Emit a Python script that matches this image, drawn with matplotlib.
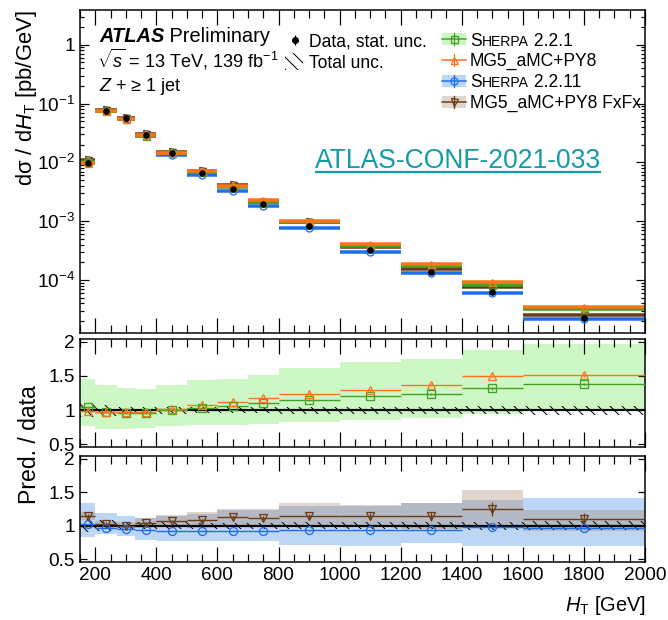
import numpy as np
import matplotlib
matplotlib.use("Agg")
import matplotlib.pyplot as plt
from matplotlib.patches import Rectangle
from matplotlib.ticker import LogLocator, MultipleLocator, FixedLocator, FuncFormatter, NullFormatter

plt.rcParams["font.family"] = ["Liberation Sans", "DejaVu Sans"]
plt.rcParams["mathtext.fontset"] = "custom"
plt.rcParams["mathtext.rm"] = "Liberation Sans"
plt.rcParams["mathtext.it"] = "Liberation Sans:italic"
plt.rcParams["mathtext.bf"] = "Liberation Sans:bold"
plt.rcParams["mathtext.default"] = "regular"
plt.rcParams["hatch.linewidth"] = 1.0

# ── binning and measured cross section ─────────────────────────────────────────
edges = np.array([150, 200, 270, 330, 400, 500, 600, 700, 800, 1000, 1200, 1400, 1600, 2000])
data_xsec = np.array([9.7e-3, 7.6e-2, 5.65e-2, 2.97e-2, 1.43e-2, 6.7e-3, 3.6e-3,
                      1.94e-3, 8.3e-4, 3.2e-4, 1.38e-4, 6.2e-5, 2.3e-5])
data_stat = np.array([0.01, 0.005, 0.005, 0.005, 0.005, 0.005, 0.01,
                      0.01, 0.01, 0.015, 0.02, 0.03, 0.04])          # relative
tot_unc = np.array([0.10, 0.08, 0.05, 0.05, 0.05, 0.045, 0.045,
                    0.045, 0.05, 0.05, 0.05, 0.06, 0.065])          # relative

# ── predictions / data ─────────────────────────────────────────────────────────
r_sh221 = np.array([1.04, 0.97, 0.96, 0.96, 1.00, 1.03, 1.06, 1.10, 1.15, 1.20, 1.24, 1.32, 1.38])
r_sh221_stat = np.array([0.02, 0.01, 0.01, 0.01, 0.01, 0.01, 0.01, 0.01, 0.01, 0.01, 0.015, 0.02, 0.02])
r_sh221_lo = np.array([0.77, 0.72, 0.73, 0.74, 0.76, 0.78, 0.785, 0.80, 0.83, 0.86, 0.89, 0.95, 0.98])
r_sh221_hi = np.array([1.45, 1.36, 1.33, 1.31, 1.37, 1.44, 1.45, 1.51, 1.61, 1.70, 1.75, 1.88, 1.96])

r_mg5 = np.array([0.99, 0.975, 0.97, 0.97, 1.02, 1.07, 1.12, 1.17, 1.24, 1.29, 1.37, 1.50, 1.51])
r_mg5_stat = np.array([0.02, 0.01, 0.01, 0.01, 0.01, 0.01, 0.01, 0.01, 0.01, 0.01, 0.015, 0.02, 0.02])

r_sh2211 = np.array([1.02, 0.97, 0.95, 0.94, 0.925, 0.925, 0.925, 0.925, 0.93, 0.93, 0.94, 0.975, 0.965])
r_sh2211_stat = np.array([0.01, 0.01, 0.01, 0.01, 0.01, 0.01, 0.01, 0.01, 0.01, 0.01, 0.01, 0.015, 0.015])
r_sh2211_lo = np.array([0.84, 0.88, 0.85, 0.79, 0.78, 0.77, 0.77, 0.77, 0.72, 0.70, 0.74, 0.70, 0.70])
r_sh2211_hi = np.array([1.34, 1.19, 1.14, 1.12, 1.14, 1.17, 1.23, 1.23, 1.29, 1.30, 1.34, 1.38, 1.41])

r_fxfx = np.array([1.15, 1.03, 1.00, 1.04, 1.07, 1.08, 1.13, 1.11, 1.15, 1.15, 1.14, 1.25, 1.10])
r_fxfx_stat = np.array([0.03, 0.02, 0.02, 0.02, 0.02, 0.02, 0.03, 0.03, 0.03, 0.04, 0.07, 0.11, 0.09])
r_fxfx_lo = np.array([1.09, 0.98, 0.96, 0.97, 0.99, 0.97, 1.00, 0.98, 0.98, 0.98, 0.95, 0.96, 0.92])
r_fxfx_hi = np.array([1.21, 1.07, 1.05, 1.11, 1.16, 1.20, 1.25, 1.25, 1.34, 1.31, 1.34, 1.54, 1.24])

c_green, c_orange, c_blue, c_brown = "#44a020", "#ff731a", "#1e6eeb", "#6e3c14"
f_green, f_blue, f_brown = "#cdf8c6", "#bed6f5", "#9a7a5a"

centers = 0.5 * (edges[:-1] + edges[1:])
lo_e, hi_e = edges[:-1], edges[1:]

# ── canvas in pixel units (dpi 72 so 1 pt == 1 px) ─────────────────────────────
W, H = 668, 620
fig = plt.figure(figsize=(W / 72, H / 72), dpi=72)


def px_axes(left, top, right, bottom):
    return fig.add_axes([left / W, 1 - bottom / H, (right - left) / W, (bottom - top) / H])


ax_top = px_axes(80, 10, 645, 333)
ax_mid = px_axes(80, 339, 645, 447)
ax_bot = px_axes(80, 456, 645, 562)


def style(ax, ylen=7):
    ax.set_xlim(150, 2000)
    ax.xaxis.set_major_locator(MultipleLocator(200))
    ax.xaxis.set_minor_locator(MultipleLocator(50))
    ax.tick_params(which="both", direction="in", top=True, right=True,
                   labelsize=19, width=1.2, pad=5)
    ax.tick_params(axis="x", which="major", length=15)
    ax.tick_params(axis="x", which="minor", length=8)
    ax.tick_params(axis="y", which="major", length=ylen)
    ax.tick_params(axis="y", which="minor", length=4)
    for s in ax.spines.values():
        s.set_linewidth(1.5)


# --- top panel: differential cross section ---
ax_top.set_yscale("log")
ax_top.set_ylim(1.26e-5, 3.9)
style(ax_top, ylen=9)
ax_top.yaxis.set_major_locator(LogLocator(base=10, numticks=20))
ax_top.yaxis.set_minor_locator(LogLocator(base=10, subs=np.arange(2, 10), numticks=20))
ax_top.yaxis.set_minor_formatter(NullFormatter())
ax_top.yaxis.set_major_formatter(FuncFormatter(
    lambda v, _: "1" if abs(v - 1) < 1e-9 else r"$10^{%d}$" % round(np.log10(v))))
ax_top.tick_params(labelbottom=False)

for ratio, col, mk in [(r_sh2211, c_blue, "o"), (r_fxfx, c_brown, "v"),
                       (r_sh221, c_green, "s"), (r_mg5, c_orange, "^")]:
    pred = data_xsec * ratio
    ax_top.hlines(pred, lo_e, hi_e, color=col, lw=3.5)
    ax_top.plot(centers, pred, ls="none", marker=mk, mfc="none", mec=col, ms=7, mew=1.3)
ax_top.errorbar(centers, data_xsec, yerr=data_xsec * data_stat, fmt="o", color="k",
                ms=5.5, elinewidth=1.2, capsize=0, zorder=5)


# --- ratio panels ---
def ratio_panel(ax, models):
    style(ax)
    ax.set_ylim(0.46, 2.04)
    ax.yaxis.set_major_locator(FixedLocator([0.5, 1, 1.5, 2]))
    ax.yaxis.set_major_formatter(FuncFormatter(lambda v, _: "%g" % v))
    ax.stairs(1 + tot_unc, edges, baseline=1 - tot_unc, fill=True, facecolor="none",
              edgecolor="k", hatch="\\\\", lw=0, zorder=3)
    ax.hlines(np.ones(len(centers)), lo_e, hi_e, color="k", lw=2.2, zorder=3)
    for ratio, stat, col, mk in models:
        ax.hlines(ratio, lo_e, hi_e, color=col, lw=1.4, zorder=4)
        ax.errorbar(centers, ratio, yerr=stat, fmt=mk, mfc="none", mec=col, ecolor=col,
                    ms=8, mew=1.3, elinewidth=1.3, capsize=0, zorder=5)


ax_mid.stairs(r_sh221_hi, edges, baseline=r_sh221_lo, fill=True, facecolor=f_green, lw=0, zorder=1)
ratio_panel(ax_mid, [(r_sh221, r_sh221_stat, c_green, "s"), (r_mg5, r_mg5_stat, c_orange, "^")])
ax_mid.tick_params(labelbottom=False)

ax_bot.stairs(r_sh2211_hi, edges, baseline=r_sh2211_lo, fill=True, facecolor=f_blue, lw=0, zorder=1)
ax_bot.stairs(r_fxfx_hi, edges, baseline=r_fxfx_lo, fill=True, facecolor=f_brown, alpha=0.3,
              lw=0, zorder=2)
ratio_panel(ax_bot, [(r_sh2211, r_sh2211_stat, c_blue, "o"), (r_fxfx, r_fxfx_stat, c_brown, "v")])

# ── labels, legend and annotations on a pixel overlay ─────────────────────────
ov = fig.add_axes([0, 0, 1, 1])
ov.set_xlim(0, W)
ov.set_ylim(H, 0)
ov.axis("off")
renderer = fig.canvas.get_renderer()


def put_pieces(x, y, pieces, **kw):
    for s, size, extra in pieces:
        t = ov.text(x, y, s, fontsize=size, va="baseline", ha="left", **extra, **kw)
        x += t.get_window_extent(renderer=renderer).width


ov.text(27, 10, r"dσ / d$\mathit{H}_{\mathrm{T}}$ [pb/GeV]", rotation=90, ha="center",
        va="top", fontsize=22)
ov.text(30, 445, "Pred. / data", rotation=90, ha="center", va="center", fontsize=23)
ov.text(646, 611, r"$\mathit{H}_{\mathrm{T}}$ [GeV]", ha="right", va="baseline", fontsize=20)

put_pieces(99, 42, [("ATLAS", 20, dict(fontweight="bold", fontstyle="italic")),
                    (" Preliminary", 20, {})])
ov.text(97, 67, r"$\sqrt{\mathit{s}}$ = 13 TeV, 139 fb$^{-1}$", fontsize=18, va="baseline")
ov.text(99, 91, r"$\mathit{Z}$ + ≥ 1 jet", fontsize=18, va="baseline")

# left legend column
ov.errorbar([295], [40], yerr=[[5], [5]], fmt="o", color="k", ms=6, elinewidth=1.2, capsize=0)
ov.text(309, 46.3, "Data, stat. unc.", fontsize=17.5, va="baseline")
ov.add_patch(Rectangle((285, 53), 18, 17, facecolor="none", edgecolor="k", hatch="\\\\", lw=0))
ov.text(309, 67.5, "Total unc.", fontsize=17.5, va="baseline")

# right legend column
entries = [
    (c_green, f_green, 1.0, "s", [("S", 17.5), ("HERPA", 14), (" 2.2.1", 17.5)]),
    (c_orange, None, 1.0, "^", [("MG5_aMC+PY8", 17.5)]),
    (c_blue, f_blue, 1.0, "o", [("S", 17.5), ("HERPA", 14), (" 2.2.11", 17.5)]),
    (c_brown, f_brown, 0.3, "v", [("MG5_aMC+PY8 FxFx", 17.5)]),
]
for i, (col, fill, alpha, mk, pieces) in enumerate(entries):
    base = 45.5 + i * 20.8
    yc = base - 6.3
    if fill is not None:
        ov.add_patch(Rectangle((442, yc - 6), 24, 12, facecolor=fill, alpha=alpha, lw=0))
    ov.plot([442, 466], [yc, yc], color=col, lw=1.5)
    ov.plot([454, 454], [yc - 6, yc + 6], color=col, lw=1.3)
    ov.plot([454], [yc], marker=mk, mfc="none", mec=col, ms=7, mew=1.3)
    put_pieces(470, base, [(s, sz, {}) for s, sz in pieces])

conf = ov.text(315, 168, "ATLAS-CONF-2021-033", fontsize=26.5, color="#149ba9", va="baseline")
bb = conf.get_window_extent(renderer=renderer)
ov.plot([315, 315 + bb.width], [172, 172], color="#149ba9", lw=2.2, solid_capstyle="butt")

fig.savefig("out.png", dpi=72)
